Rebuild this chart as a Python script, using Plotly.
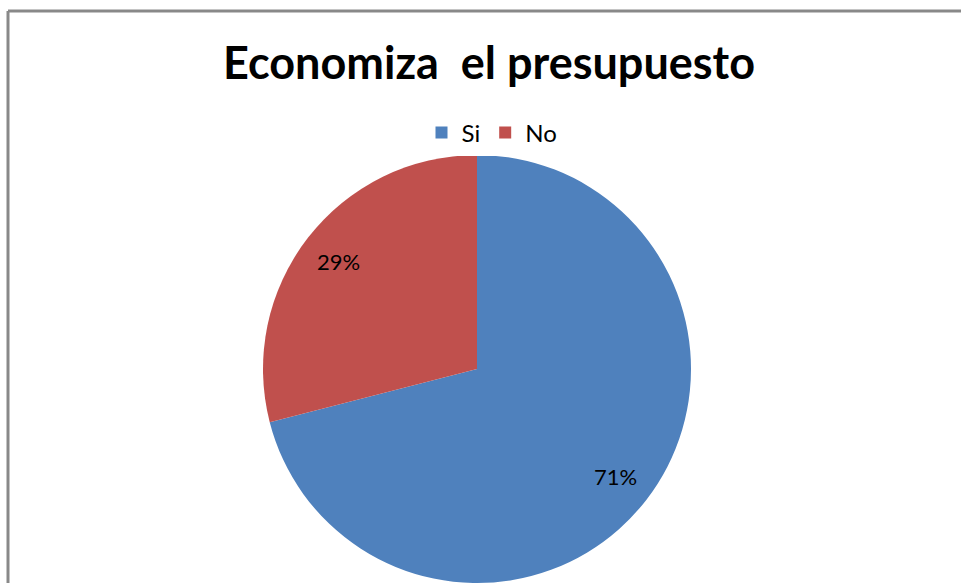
import numpy as np
import plotly.graph_objects as go

labels = ["Si", "No"]
values = [71, 29]
colors = ["#4F81BD", "#C0504D"]
title_text = "Economiza  el presupuesto"

W, H = 961, 583
cx, cy, R = 477, 369, 214  # pixel geometry of the pie

dom_x = [(cx - R) / W, (cx + R) / W]
dom_y = [1 - (cy + R) / H, 1 - (cy - R) / H]

fig = go.Figure()
fig.add_trace(go.Pie(
    labels=labels, values=values, sort=False, direction="clockwise", rotation=0,
    marker=dict(colors=colors, line=dict(width=0)),
    textinfo="none", hoverinfo="label+percent",
    domain=dict(x=dom_x, y=dom_y),
))

# percentage labels placed along slice mid-angles
vals = np.array(values, dtype=float)
total = vals.sum()
cum = np.cumsum(vals) - vals / 2
f = 0.82
annotations = []
for v, mid in zip(vals, cum):
    th = mid / total * 2 * np.pi
    px = cx + f * R * np.sin(th)
    py = cy - f * R * np.cos(th)
    annotations.append(dict(
        x=px / W, y=1 - py / H, xref="paper", yref="paper",
        text=f"{round(v / total * 100)}%", showarrow=False,
        font=dict(family="Lato, Carlito, Calibri, sans-serif", size=22, color="#000000"),
        xanchor="center", yanchor="middle",
    ))

fig.update_layout(
    width=W, height=H,
    margin=dict(l=0, r=0, t=0, b=0),
    paper_bgcolor="white", plot_bgcolor="white",
    title=dict(text=f"<b>{title_text}</b>", x=489 / W, xanchor="center",
               y=1 - 63 / H, yanchor="middle",
               font=dict(family="Lato, Carlito, Calibri, sans-serif", size=45, color="#000000")),
    showlegend=True,
    legend=dict(orientation="h", x=492 / W, xanchor="center", y=1 - 133 / H, yanchor="middle",
                font=dict(family="Lato, Carlito, Calibri, sans-serif", size=24, color="#000000"),
                itemwidth=30, traceorder="normal"),
    annotations=annotations,
    shapes=[
        dict(type="line", xref="paper", yref="paper", x0=8 / W, x1=1.02, y0=1 - 11 / H, y1=1 - 11 / H,
             line=dict(color="#898989", width=3)),
        dict(type="line", xref="paper", yref="paper", x0=8 / W, x1=8 / W, y0=-0.02, y1=1 - 11 / H,
             line=dict(color="#898989", width=3)),
    ],
)

fig.write_html("out.html")
